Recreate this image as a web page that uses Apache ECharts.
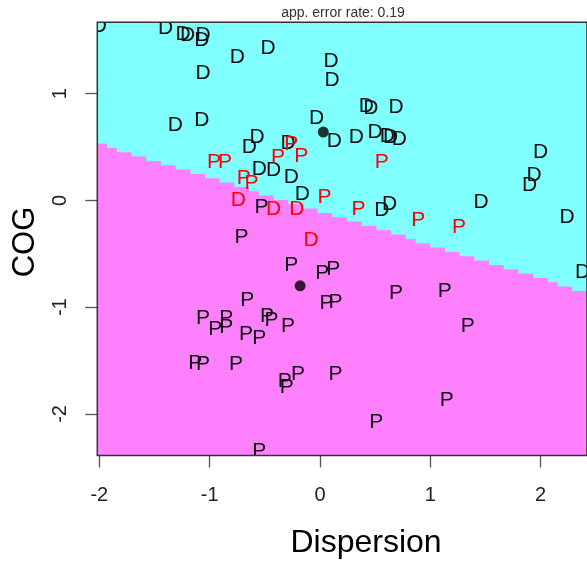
<!DOCTYPE html>
<html>
<head>
<meta charset="utf-8">
<script src="https://cdn.jsdelivr.net/npm/echarts@6/dist/echarts.min.js"></script>
<style>
  html, body { margin: 0; padding: 0; background: #fff; overflow: hidden; }
  #chart { width: 587px; height: 562px; }
</style>
</head>
<body>
<div id="chart"></div>
<script>
// Partition plot of a two-class LDA on (Dispersion, COG)

// Observations of class D that the rule assigns correctly
const dCorrect = [
  [-2.00, 1.63], [-1.40, 1.61], [-1.24, 1.56], [-1.20, 1.55], [-1.07, 1.50],
  [-1.06, 1.55], [-0.75, 1.34], [-0.47, 1.43], [-1.06, 1.19], [0.10, 1.30],
  [0.11, 1.13], [-1.31, 0.70], [-1.07, 0.75], [-0.03, 0.77], [0.13, 0.55],
  [-0.57, 0.59], [-0.64, 0.50], [-0.29, 0.54], [0.42, 0.88], [0.46, 0.86],
  [0.69, 0.87], [0.33, 0.59], [0.50, 0.64], [0.61, 0.60], [0.64, 0.59],
  [0.72, 0.57], [2.00, 0.45], [-0.55, 0.29], [-0.42, 0.28], [-0.26, 0.22],
  [-0.16, 0.06], [1.94, 0.24], [1.90, 0.14], [0.56, -0.09], [0.63, -0.04],
  [1.46, -0.02], [2.24, -0.16], [2.38, -0.67]
];
// Observations of class D assigned to P
const dWrong = [
  [-0.74, 0.00], [-0.42, -0.08], [-0.21, -0.08], [-0.08, -0.37]
];
// Observations of class P that the rule assigns correctly
const pCorrect = [
  [-0.53, -0.06], [-0.71, -0.34], [-0.26, -0.61], [0.02, -0.68], [0.12, -0.64],
  [-0.66, -0.93], [0.06, -0.96], [0.14, -0.95], [-1.06, -1.10], [-0.85, -1.10],
  [-0.95, -1.21], [-0.85, -1.19], [-0.48, -1.08], [-0.44, -1.12], [-0.67, -1.25],
  [-0.55, -1.29], [-0.29, -1.18], [-1.13, -1.52], [-1.06, -1.53], [-0.76, -1.53],
  [-0.32, -1.69], [-0.20, -1.63], [-0.30, -1.75], [0.14, -1.63], [-0.55, -2.35],
  [0.69, -0.87], [1.13, -0.85], [1.34, -1.18], [1.15, -1.87], [0.51, -2.08]
];
// Observations of class P assigned to D
const pWrong = [
  [-0.96, 0.36], [-0.86, 0.36], [-0.38, 0.40], [-0.17, 0.41], [-0.26, 0.53],
  [-0.69, 0.21], [-0.62, 0.16], [0.04, 0.03], [0.56, 0.36], [0.35, -0.08],
  [0.89, -0.19], [1.26, -0.25]
];
// Class means (D, P)
const centroids = [[0.03, 0.64], [-0.18, -0.80]];
// Decision boundary between the two regions (two points on the line)
const boundary = [[-2.018, 0.533], [2.402, -0.858]];

const xTicks = [-2, -1, 0, 1, 2];
const yTicks = [-2, -1, 0, 1];
const titleText = 'app. error rate: 0.19';

const X_MIN = -2.018, X_MAX = 2.42;
const Y_MIN = -2.389, Y_MAX = 1.668;
const GRID_N = 100;

const CYAN = '#80ffff';
const PINK = '#ff80ff';
const FONT = '"Liberation Sans", Arial, Helvetica, sans-serif';

function letterSeries(name, pts, letter, color) {
  return {
    name: name,
    type: 'custom',
    coordinateSystem: 'cartesian2d',
    clip: true,
    z: 5,
    data: pts,
    encode: { x: 0, y: 1 },
    renderItem: function (params, api) {
      const p = api.coord([api.value(0), api.value(1)]);
      return {
        type: 'text',
        x: p[0],
        y: p[1],
        style: {
          text: letter,
          fill: color,
          fontSize: 21,
          fontFamily: FONT,
          align: 'center',
          verticalAlign: 'middle'
        }
      };
    }
  };
}

const chart = echarts.init(document.getElementById('chart'), null, { renderer: 'canvas' });

chart.setOption({
  animation: false,
  backgroundColor: '#ffffff',
  grid: {
    left: 97.3,
    top: 22.3,
    width: 491.7,
    height: 433.2,
    show: true,
    backgroundColor: CYAN,
    borderWidth: 0
  },
  xAxis: {
    type: 'value',
    position: 'bottom',
    min: X_MIN,
    max: X_MAX,
    splitLine: { show: false },
    axisLine: { show: false, onZero: false },
    axisTick: {
      show: true,
      length: 12,
      customValues: xTicks,
      lineStyle: { color: '#555', width: 1.3 }
    },
    axisLabel: {
      customValues: xTicks,
      fontSize: 20,
      fontFamily: FONT,
      color: '#222',
      margin: 30
    }
  },
  yAxis: {
    type: 'value',
    position: 'left',
    min: Y_MIN,
    max: Y_MAX,
    splitLine: { show: false },
    axisLine: { show: false, onZero: false },
    axisTick: {
      show: true,
      length: 12,
      customValues: yTicks,
      lineStyle: { color: '#555', width: 1.3 }
    },
    axisLabel: {
      customValues: yTicks,
      rotate: 90,
      fontSize: 20,
      fontFamily: FONT,
      color: '#222',
      margin: 27
    }
  },
  graphic: [
    {
      type: 'text',
      x: 343, y: 13,
      style: {
        text: titleText, fill: '#333', fontSize: 14, fontFamily: FONT,
        align: 'center', verticalAlign: 'middle'
      }
    },
    {
      type: 'text',
      x: 366, y: 543,
      style: {
        text: 'Dispersion', fill: '#000', fontSize: 32, fontFamily: FONT,
        align: 'center', verticalAlign: 'middle'
      }
    },
    {
      type: 'text',
      x: 25, y: 242,
      rotation: Math.PI / 2,
      style: {
        text: 'COG', fill: '#000', fontSize: 31, fontFamily: FONT,
        align: 'center', verticalAlign: 'middle'
      }
    }
  ],
  series: [
    {
      // Region classified as P: grid cells whose centre lies below the boundary
      name: 'regionP',
      type: 'custom',
      coordinateSystem: 'cartesian2d',
      clip: true,
      z: 1,
      data: [[X_MIN, Y_MIN]],
      renderItem: function (params, api) {
        const [bx0, by0] = boundary[0];
        const [bx1, by1] = boundary[1];
        const dx = (X_MAX - X_MIN) / GRID_N;
        const dy = (Y_MAX - Y_MIN) / GRID_N;
        const pts = [api.coord([X_MIN, Y_MIN])];
        for (let i = 0; i < GRID_N; i++) {
          const xc = X_MIN + (i + 0.5) * dx;
          const yb = by0 + (by1 - by0) * (xc - bx0) / (bx1 - bx0);
          let count = Math.ceil((yb - Y_MIN) / dy - 0.5);
          count = Math.max(0, Math.min(GRID_N, count));
          const top = Y_MIN + count * dy;
          pts.push(api.coord([X_MIN + i * dx, top]));
          pts.push(api.coord([X_MIN + (i + 1) * dx, top]));
        }
        pts.push(api.coord([X_MAX, Y_MIN]));
        return {
          type: 'polygon',
          shape: { points: pts },
          style: { fill: PINK, stroke: null }
        };
      }
    },
    letterSeries('D', dCorrect, 'D', '#111'),
    letterSeries('P', pCorrect, 'P', '#111'),
    letterSeries('D misclassified', dWrong, 'D', '#ff0000'),
    letterSeries('P misclassified', pWrong, 'P', '#ff0000'),
    {
      name: 'means',
      type: 'scatter',
      z: 6,
      symbol: 'circle',
      symbolSize: 11,
      itemStyle: { color: '#000' },
      data: centroids
    },
    {
      // Plot frame
      name: 'frame',
      type: 'custom',
      coordinateSystem: 'cartesian2d',
      clip: false,
      z: 10,
      data: [[X_MIN, Y_MIN]],
      renderItem: function (params, api) {
        const cs = params.coordSys;
        return {
          type: 'rect',
          shape: { x: cs.x, y: cs.y, width: cs.width, height: cs.height },
          style: { fill: null, stroke: '#333', lineWidth: 1.5 }
        };
      }
    }
  ]
});
</script>
</body>
</html>
